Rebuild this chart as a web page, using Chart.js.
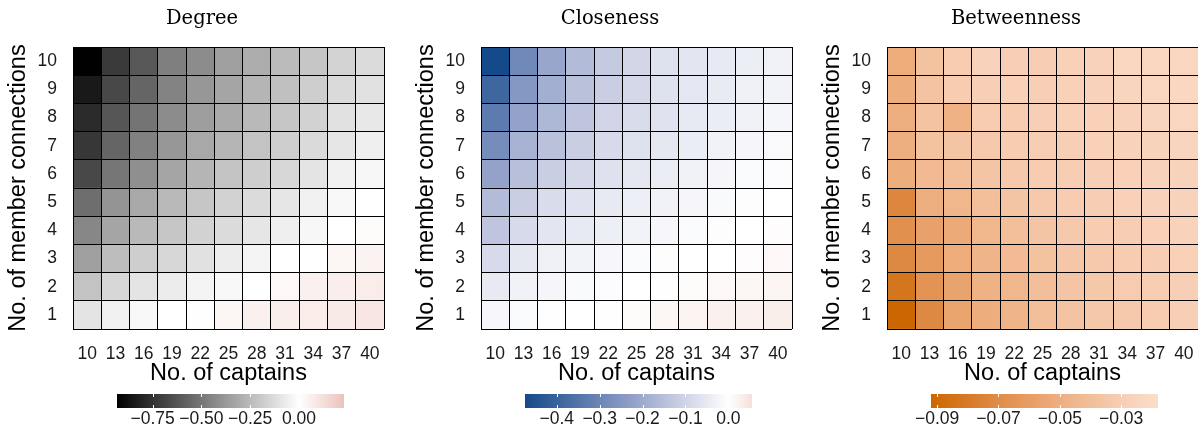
<!DOCTYPE html>
<html>
<head>
<meta charset="utf-8">
<script src="https://cdn.jsdelivr.net/npm/chart.js@4.4.1/dist/chart.umd.min.js"></script>
<style>
  html, body { margin: 0; padding: 0; background: #fff; overflow: hidden; }
  body { width: 1198px; height: 433px; position: relative; overflow: hidden; }
  canvas { position: absolute; }
</style>
</head>
<body>
<canvas id="degree" width="404" height="392" style="left:0px;top:0px"></canvas>
<canvas id="closeness" width="404" height="392" style="left:408px;top:0px"></canvas>
<canvas id="betweenness" width="404" height="392" style="left:814px;top:0px"></canvas>
<canvas id="degreeBar" width="267" height="48" style="left:97px;top:386px"></canvas>
<canvas id="closenessBar" width="267" height="48" style="left:505px;top:386px"></canvas>
<canvas id="betweennessBar" width="267" height="48" style="left:911px;top:386px"></canvas>
<script>
const captains = ['10', '13', '16', '19', '22', '25', '28', '31', '34', '37', '40'];
const connections = [1, 2, 3, 4, 5, 6, 7, 8, 9, 10];

// one row per number of member connections, from 1 (bottom) to 10 (top)
const degree = [
  [-0.10, -0.055, -0.025, 0.0, 0.005, 0.036, 0.052, 0.064, 0.072, 0.08, 0.095],
  [-0.22, -0.145, -0.10, -0.07, -0.04, -0.025, 0.0, 0.028, 0.052, 0.064, 0.072],
  [-0.35, -0.24, -0.18, -0.145, -0.11, -0.065, -0.04, 0.0, 0.0, 0.032, 0.048],
  [-0.44, -0.33, -0.255, -0.21, -0.165, -0.13, -0.09, -0.06, -0.03, 0.0, 0.015],
  [-0.53, -0.39, -0.32, -0.255, -0.21, -0.165, -0.13, -0.09, -0.055, -0.025, 0.0],
  [-0.67, -0.50, -0.41, -0.33, -0.27, -0.22, -0.18, -0.145, -0.10, -0.055, -0.03],
  [-0.73, -0.565, -0.46, -0.38, -0.32, -0.27, -0.22, -0.18, -0.135, -0.09, -0.06],
  [-0.78, -0.62, -0.51, -0.42, -0.355, -0.31, -0.255, -0.21, -0.165, -0.11, -0.085],
  [-0.84, -0.67, -0.565, -0.455, -0.38, -0.33, -0.27, -0.23, -0.18, -0.135, -0.11],
  [-0.93, -0.72, -0.61, -0.47, -0.42, -0.35, -0.30, -0.25, -0.21, -0.16, -0.13]
];

const closeness = [
  [-0.018, -0.01, -0.003, 0.0, 0.002, 0.006, 0.015, 0.02, 0.025, 0.026, 0.03],
  [-0.05, -0.03, -0.02, -0.012, -0.006, 0.0, 0.002, 0.006, 0.012, 0.015, 0.017],
  [-0.085, -0.055, -0.035, -0.027, -0.018, -0.01, -0.005, 0.0, 0.0, 0.005, 0.012],
  [-0.135, -0.085, -0.06, -0.05, -0.038, -0.028, -0.018, -0.01, -0.005, 0.0, 0.005],
  [-0.16, -0.115, -0.08, -0.065, -0.05, -0.038, -0.03, -0.02, -0.012, -0.005, 0.0],
  [-0.22, -0.15, -0.115, -0.09, -0.07, -0.055, -0.042, -0.03, -0.02, -0.01, -0.006],
  [-0.28, -0.18, -0.145, -0.115, -0.085, -0.07, -0.055, -0.042, -0.03, -0.02, -0.013],
  [-0.33, -0.22, -0.17, -0.135, -0.10, -0.08, -0.065, -0.05, -0.042, -0.03, -0.022],
  [-0.39, -0.25, -0.19, -0.145, -0.115, -0.09, -0.07, -0.057, -0.047, -0.035, -0.027],
  [-0.474, -0.29, -0.21, -0.16, -0.125, -0.095, -0.07, -0.06, -0.05, -0.04, -0.03]
];

const betweenness = [
  [-0.092, -0.072, -0.056, -0.051, -0.047, -0.040, -0.037, -0.034, -0.033, -0.031, -0.029],
  [-0.083, -0.066, -0.057, -0.048, -0.045, -0.040, -0.036, -0.034, -0.032, -0.030, -0.029],
  [-0.072, -0.062, -0.052, -0.047, -0.042, -0.038, -0.035, -0.033, -0.031, -0.030, -0.028],
  [-0.068, -0.058, -0.053, -0.045, -0.040, -0.036, -0.033, -0.031, -0.030, -0.028, -0.027],
  [-0.073, -0.050, -0.045, -0.040, -0.036, -0.033, -0.031, -0.030, -0.028, -0.027, -0.026],
  [-0.051, -0.043, -0.040, -0.036, -0.033, -0.031, -0.030, -0.029, -0.028, -0.027, -0.026],
  [-0.050, -0.038, -0.036, -0.033, -0.031, -0.030, -0.029, -0.028, -0.027, -0.026, -0.025],
  [-0.050, -0.037, -0.048, -0.031, -0.031, -0.029, -0.028, -0.028, -0.027, -0.025, -0.024],
  [-0.051, -0.037, -0.031, -0.029, -0.028, -0.029, -0.028, -0.027, -0.025, -0.024, -0.023],
  [-0.052, -0.038, -0.031, -0.027, -0.029, -0.030, -0.028, -0.027, -0.023, -0.024, -0.024]
];

// colour bar ranges and ticks
const degreeRange = [-0.933, 0.231];
const closenessRange = [-0.474, 0.055];
const betweennessRange = [-0.092, -0.018];
const degreeTicks = [-0.75, -0.50, -0.25, 0.00];
const closenessTicks = [-0.4, -0.3, -0.2, -0.1, 0.0];
const betweennessTicks = [-0.09, -0.07, -0.05, -0.03];

const degreeColors = [[-0.933, [0, 0, 0]], [0, [255, 255, 255]], [0.231, [235, 195, 186]]];
const closenessColors = [[-0.474, [20, 74, 138]], [-0.237, [140, 155, 198]], [-0.1, [208, 212, 230]],
                         [0, [255, 255, 255]], [0.055, [245, 224, 218]]];
const betweennessColors = [[-0.092, [204, 102, 0]], [-0.07, [224, 140, 72]], [-0.05, [238, 175, 128]],
                           [-0.03, [247, 206, 180]], [-0.018, [250, 222, 203]]];

function colorAt(stops, v) {
  if (v <= stops[0][0]) return rgb(stops[0][1]);
  for (let i = 1; i < stops.length; i++) {
    if (v <= stops[i][0]) {
      const [v0, c0] = stops[i - 1];
      const [v1, c1] = stops[i];
      const t = (v - v0) / (v1 - v0);
      return rgb(c0.map((c, k) => c + (c1[k] - c) * t));
    }
  }
  return rgb(stops[stops.length - 1][1]);
}

function rgb(c) {
  return 'rgb(' + c.map(Math.round).join(',') + ')';
}

const sans = 'Liberation Sans, Arial, sans-serif';
const tickFont = { family: sans, size: 17.5 };
const axisFont = { family: sans, size: 23.5 };

function makeHeatmap(id, title, values, stops) {
  const datasets = connections.map((c, i) => ({
    data: captains.map(() => [c - 0.5, c + 0.5]),
    backgroundColor: values[i].map(v => colorAt(stops, v)),
    borderColor: values[i].map(v => colorAt(stops, v)),
    borderWidth: 0.5,
    borderSkipped: false,
    grouped: false,
    barPercentage: 1,
    categoryPercentage: 1
  }));
  const edges = [connections[0] - 0.5].concat(connections.map(c => c + 0.5));

  new Chart(document.getElementById(id), {
    type: 'bar',
    data: { labels: captains, datasets: datasets },
    options: {
      responsive: false,
      animation: false,
      layout: { padding: 0 },
      plugins: {
        legend: { display: false },
        tooltip: { enabled: false },
        title: {
          display: true,
          text: title,
          color: '#000',
          font: { family: 'DejaVu Serif', size: 19.5, weight: 'normal' },
          padding: { top: 7.4, bottom: 16.2 }
        }
      },
      scales: {
        x: {
          type: 'category',
          offset: true,
          grid: { offset: true, color: '#000', lineWidth: 1, drawTicks: false, z: 1 },
          border: { display: false },
          ticks: { font: tickFont, color: '#1a1a1a', padding: 15, maxRotation: 0, autoSkip: false },
          title: { display: true, text: 'No. of captains', color: '#000', font: axisFont, padding: { top: 0, bottom: 4 } },
          afterFit: s => { s.height = 63; }
        },
        y: {
          type: 'linear',
          min: 0.5,
          max: 10.5,
          afterBuildTicks: s => { s.ticks = connections.map(v => ({ value: v })); },
          grid: { display: false, drawTicks: false },
          border: { display: false },
          ticks: { font: tickFont, color: '#1a1a1a', padding: 16 },
          title: { display: true, text: 'No. of member connections', color: '#000', font: axisFont, padding: { top: 4, bottom: 0 } },
          afterFit: s => { s.width = 73; }
        },
        yg: {
          type: 'linear',
          position: 'right',
          min: 0.5,
          max: 10.5,
          afterBuildTicks: s => { s.ticks = edges.map(v => ({ value: v })); },
          grid: { color: '#000', lineWidth: 1, drawTicks: false, z: 1 },
          border: { display: false },
          ticks: { display: false },
          afterFit: s => { s.width = 20; }
        }
      }
    }
  });
}

const tickMarks = {
  id: 'tickMarks',
  afterDatasetsDraw(chart) {
    const { ctx, chartArea: a, scales: { x } } = chart;
    ctx.save();
    ctx.strokeStyle = '#fff';
    ctx.lineWidth = 1;
    x.ticks.forEach(t => {
      const px = Math.round(x.getPixelForValue(t.value)) + 0.5;
      ctx.beginPath();
      ctx.moveTo(px, a.top);
      ctx.lineTo(px, a.top + 3);
      ctx.moveTo(px, a.bottom - 3);
      ctx.lineTo(px, a.bottom);
      ctx.stroke();
    });
    ctx.restore();
  }
};

function fmt(v, digits) {
  return (v < 0 ? '\u2212' : '') + Math.abs(v).toFixed(digits);
}

function makeColorbar(id, stops, range, ticks, digits) {
  const [min, max] = range;
  new Chart(document.getElementById(id), {
    type: 'bar',
    data: {
      labels: [''],
      datasets: [{
        data: [[min, max]],
        borderWidth: 0,
        barPercentage: 1,
        categoryPercentage: 1,
        backgroundColor: c => {
          const a = c.chart.chartArea;
          if (!a) return 'transparent';
          const g = c.chart.ctx.createLinearGradient(a.left, 0, a.right, 0);
          stops.forEach(([v, col]) => {
            g.addColorStop(Math.min(1, Math.max(0, (v - min) / (max - min))), rgb(col));
          });
          return g;
        }
      }]
    },
    options: {
      indexAxis: 'y',
      responsive: false,
      animation: false,
      layout: { padding: { left: 20, right: 20, top: 8, bottom: 0 } },
      plugins: { legend: { display: false }, tooltip: { enabled: false } },
      scales: {
        x: {
          type: 'linear',
          min: min,
          max: max,
          afterBuildTicks: s => { s.ticks = ticks.map(v => ({ value: v })); },
          grid: { display: false, drawTicks: false },
          border: { display: false },
          ticks: { font: { family: sans, size: 17.5 }, color: '#1a1a1a', padding: 1, maxRotation: 0,
                   callback: v => fmt(v, digits) },
          afterFit: s => { s.height = 26; }
        },
        y: { display: false }
      }
    },
    plugins: [tickMarks]
  });
}

makeHeatmap('degree', 'Degree', degree, degreeColors);
makeHeatmap('closeness', 'Closeness', closeness, closenessColors);
makeHeatmap('betweenness', 'Betweenness', betweenness, betweennessColors);

makeColorbar('degreeBar', degreeColors, degreeRange, degreeTicks, 2);
makeColorbar('closenessBar', closenessColors, closenessRange, closenessTicks, 1);
makeColorbar('betweennessBar', betweennessColors, betweennessRange, betweennessTicks, 2);
</script>
</body>
</html>
